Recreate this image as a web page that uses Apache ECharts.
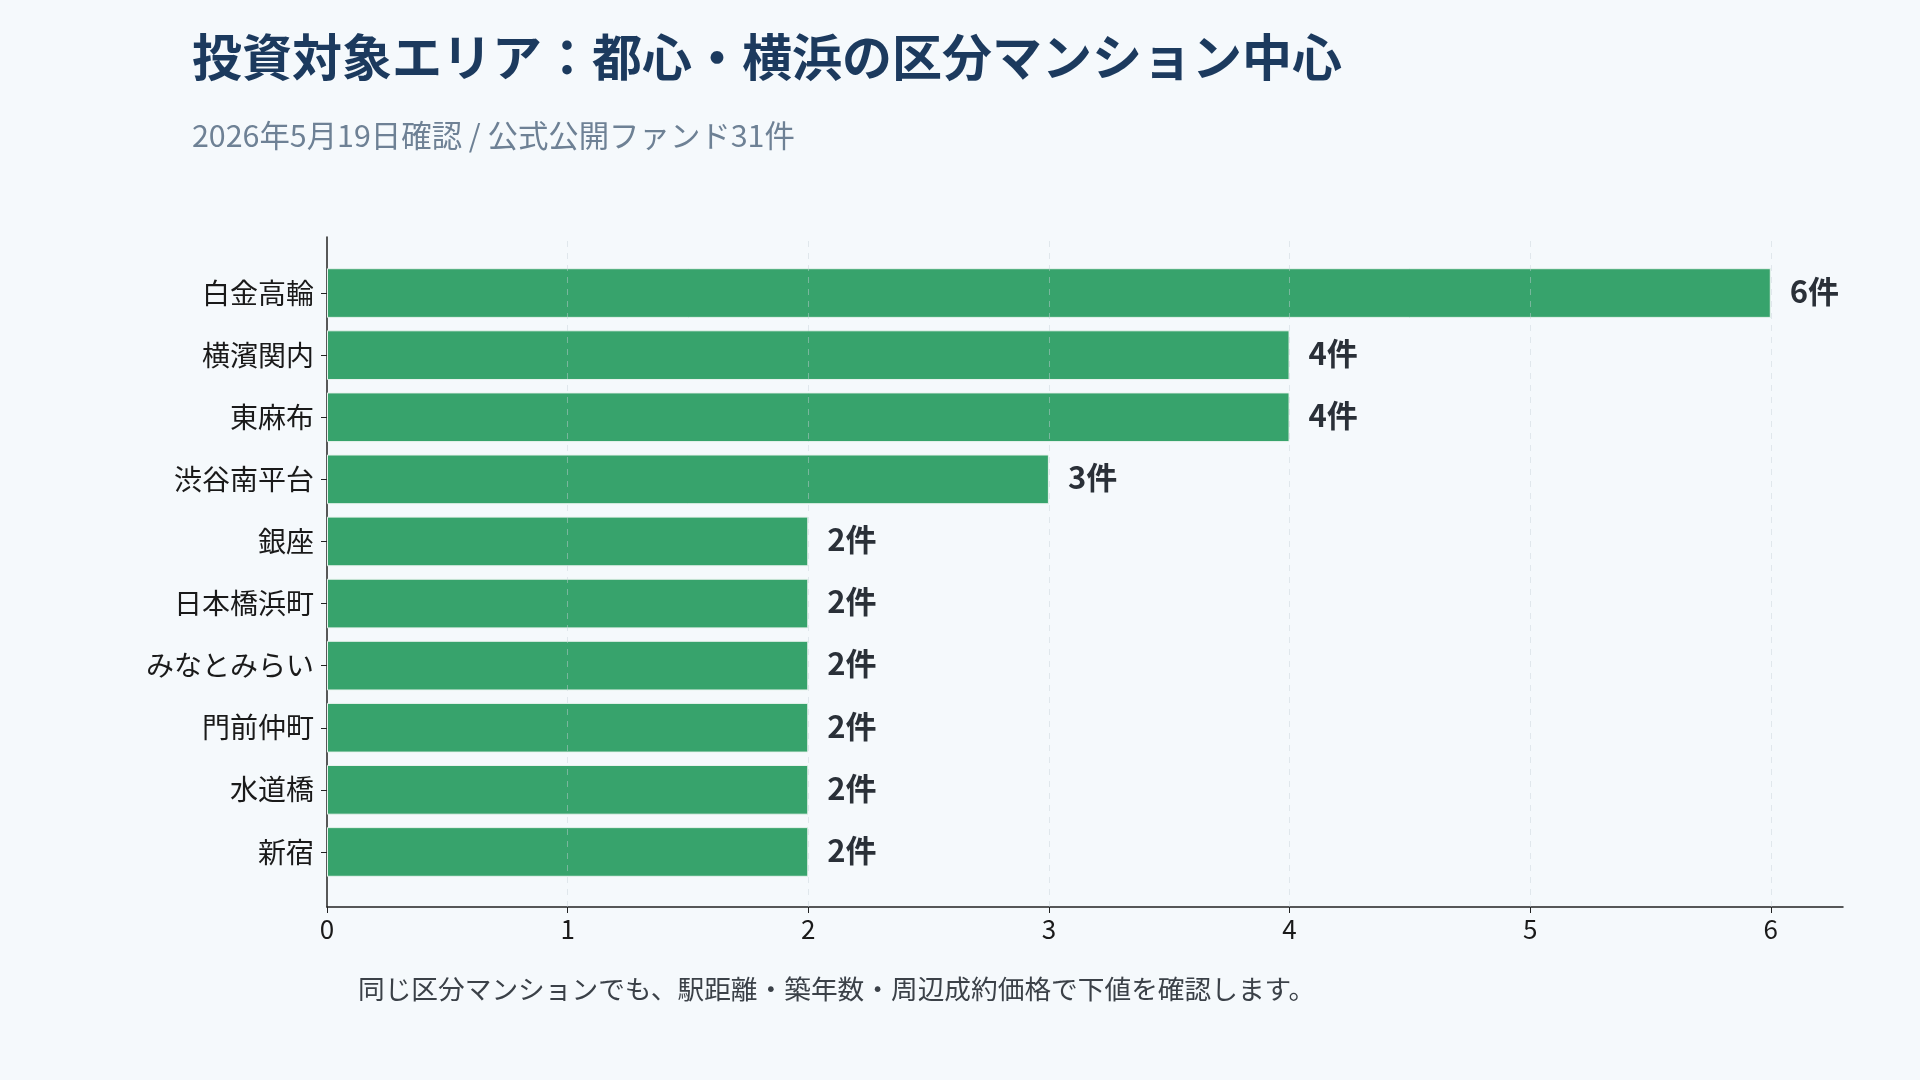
<!DOCTYPE html>
<html>
<head>
<meta charset="utf-8">
<script src="https://cdn.jsdelivr.net/npm/echarts@6/dist/echarts.min.js"></script>
<style>
html,body{margin:0;padding:0;background:#f5f9fc;}
#chart{width:1920px;height:1080px;}
</style>
</head>
<body>
<div id="chart"></div>
<script>
const titleText = '投資対象エリア：都心・横浜の区分マンション中心';
const subtitleText = '2026年5月19日確認 / 公式公開ファンド31件';
const footerText = '同じ区分マンションでも、駅距離・築年数・周辺成約価格で下値を確認します。';
const categories = ['白金高輪','横濱関内','東麻布','渋谷南平台','銀座','日本橋浜町','みなとみらい','門前仲町','水道橋','新宿'];
const counts = [6,4,4,3,2,2,2,2,2,2];
const xTicks = [0,1,2,3,4,5,6];
const gridLineTicks = [1,2,3,4,5,6];

const FONT = '"Noto Sans CJK JP", "Noto Sans", sans-serif';
const chart = echarts.init(document.getElementById('chart'), null, {renderer:'canvas'});

chart.setOption({
  backgroundColor: '#f5f9fc',
  animation: false,
  textStyle: {fontFamily: FONT},
  graphic: [
    {type:'text', left:192, top:32, style:{text:titleText, font:'bold 50px ' + FONT, fill:'#1c3a5e'}},
    {type:'text', left:192, top:120, style:{text:subtitleText, font:'30.4px ' + FONT, fill:'#6e8195'}},
    {type:'text', left:358, top:976, style:{text:footerText, font:'26.7px ' + FONT, fill:'#3b4148'}}
  ],
  grid: [
    {left:327, width:1516, top:237, height:670},
    {left:327, width:1516, top:262, height:621}
  ],
  xAxis: [
    {
      gridIndex:0, type:'value', min:0, max:6.3,
      axisLine:{show:true, lineStyle:{color:'#222', width:1.5}},
      axisTick:{show:true, length:6, customValues:xTicks, lineStyle:{color:'#222'}},
      axisLabel:{show:true, customValues:xTicks, fontSize:26, color:'#1a1a1a', margin:9, fontFamily:FONT},
      splitLine:{show:false}
    },
    {gridIndex:1, type:'value', min:0, max:6.3, show:false, splitLine:{show:false}}
  ],
  yAxis: [
    {
      gridIndex:0, type:'value', min:0, max:1,
      axisLine:{show:true, lineStyle:{color:'#222', width:1.5}},
      axisTick:{show:false}, axisLabel:{show:false}, splitLine:{show:false}
    },
    {
      gridIndex:1, type:'category', data:categories, inverse:true,
      axisLine:{show:false},
      axisTick:{show:true, alignWithLabel:true, length:6, lineStyle:{color:'#222'}},
      axisLabel:{fontSize:28, color:'#1a1a1a', margin:13, fontFamily:FONT},
      splitLine:{show:false}
    }
  ],
  series: [
    {
      type:'bar', xAxisIndex:1, yAxisIndex:1, data:counts, barWidth:'80%',
      itemStyle:{color:'#37a36c', borderColor:'#e9f3ee', borderWidth:1},
      label:{show:true, position:'right', distance:19, offset:[0,-2], formatter:p => p.value + '件',
        fontSize:31, fontWeight:'bold', color:'#2a3038', fontFamily:FONT},
      z:2
    },
    {
      type:'scatter', xAxisIndex:0, yAxisIndex:0, data:[], silent:true, z:5,
      markLine:{
        silent:true, symbol:'none', label:{show:false},
        lineStyle:{type:[6,6], color:'rgba(200,208,218,0.45)', width:1},
        data: gridLineTicks.map(v => ({xAxis:v}))
      }
    }
  ]
});
</script>
</body>
</html>
